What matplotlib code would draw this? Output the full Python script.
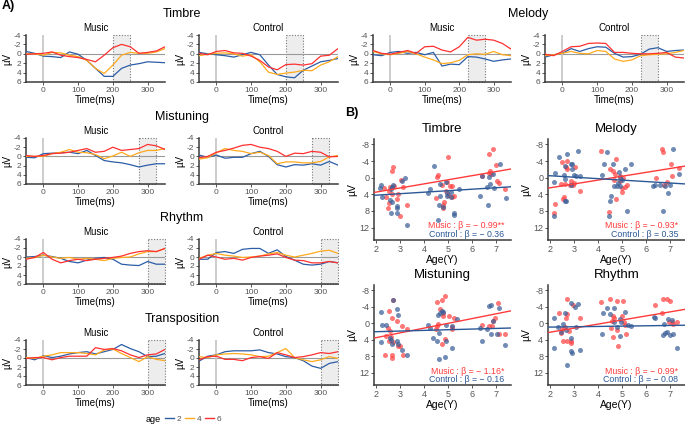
import matplotlib.pyplot as plt
from matplotlib.patches import Rectangle
from matplotlib.lines import Line2D
import numpy as np

plt.rcParams.update({
    "font.family": "Liberation Sans",
    "axes.unicode_minus": False,
})

W, H = 685, 424

# ── A) ERP curves, sampled every 25 ms from -50 to 350 ─────────────────────
times = list(range(-50, 351, 25))
ages = [2, 4, 6]

timbre_music = {
    2: [-0.5, -0.1, 0.5, 0.6, 0.8, -0.4, 0.1, 1.4, 3.1, 4.8, 4.8, 3.1, 2.4, 2.1, 1.7, 1.8, 1.9],
    4: [0.0, 0.0, 0.3, -0.3, -0.2, 0.3, 0.6, 1.4, 3.1, 4.2, 2.4, 0.3, -0.3, -0.1, -0.1, -0.4, -1.1],
    6: [0.1, 0.0, -0.1, -0.4, 0.3, 0.6, 0.8, 1.2, 1.7, 0.3, -1.3, -2.0, -1.5, -0.1, -0.3, -0.6, -1.5],
}
timbre_control = {
    2: [-0.3, 0.0, 0.2, 0.4, 0.7, 0.2, -0.3, 0.2, 2.4, 4.4, 4.9, 5.1, 3.5, 2.6, 1.7, 1.4, 1.0],
    4: [0.4, 0.1, -0.1, -0.2, 0.0, 0.5, 0.2, 1.7, 3.9, 4.4, 4.1, 3.9, 3.5, 3.6, 2.4, 1.7, 0.6],
    6: [-0.1, 0.2, -0.5, -0.7, -0.2, -0.1, 0.5, 1.4, 2.8, 3.4, 2.3, 2.2, 2.4, 2.1, 0.5, 0.3, -1.1],
}
melody_music = {
    2: [0.2, 0.4, -0.3, -0.5, -0.1, -0.3, 0.2, -0.3, 2.6, 2.2, 2.3, 0.6, 0.7, 1.1, 1.6, 1.3, 1.1],
    4: [-0.5, 0.0, 0.2, -0.1, -0.5, 0.0, 0.7, 1.3, 2.1, 1.9, 1.4, 0.2, 0.0, 0.1, -0.5, 0.2, 0.4],
    6: [-0.7, -0.1, 0.1, -0.3, -0.7, -0.1, -1.5, -1.6, -0.8, -0.4, -1.5, -3.5, -2.9, -3.1, -2.9, -2.2, -1.0],
}
melody_control = {
    2: [0.7, 0.2, -0.1, -1.1, -0.5, -1.1, -1.5, -1.4, -0.1, 0.7, 0.6, 0.1, -1.0, -1.3, -0.5, -0.7, -0.8],
    4: [0.4, 0.2, -0.1, -0.5, -0.1, 0.0, -0.7, -0.5, 1.1, 1.6, 1.3, 0.4, 0.2, 0.1, 0.0, -0.3, -0.7],
    6: [0.1, 0.4, -0.5, -1.5, -1.6, -2.2, -2.3, -2.2, -0.3, -0.3, -0.1, 0.0, 0.0, -0.1, -0.3, 0.7, 0.9],
}
mistuning_music = {
    2: [0.2, 0.3, -0.6, -0.7, -0.8, -0.9, -0.6, -1.3, -0.2, 0.9, 1.2, 1.4, 1.8, 2.3, 1.9, 1.6, 1.6],
    4: [0.0, 0.0, 0.0, -0.6, -0.9, -1.5, -0.9, -0.8, -0.4, 0.5, -0.1, -0.9, 0.0, -0.8, -1.3, -1.3, -1.7],
    6: [-0.2, 0.0, -0.2, -0.6, -0.7, -0.9, -1.3, -1.7, -0.9, -1.1, -2.0, -1.3, -1.5, -1.7, -2.6, -2.3, -1.5],
}
mistuning_control = {
    2: [-0.3, 0.2, -0.3, 0.4, 0.2, 0.2, -0.6, -1.1, 0.0, 1.8, 2.3, 1.8, 1.9, 1.6, 1.9, 1.1, 1.9],
    4: [0.6, 0.3, -0.8, -1.7, -1.3, -1.1, -0.6, -0.9, -0.2, 1.6, 1.2, 1.2, 1.4, 1.4, 1.1, 0.1, -0.2],
    6: [0.3, 0.0, -0.9, -1.3, -1.8, -2.4, -2.6, -2.0, -1.7, -1.1, 0.0, -0.7, -0.6, -1.1, -0.9, 0.1, 0.0],
}
rhythm_music = {
    2: [0.0, -0.1, -0.4, -0.1, 0.3, 1.0, 1.3, 0.7, 0.3, 0.1, 0.5, 1.6, 1.8, 1.9, 1.0, 1.6, 1.6],
    4: [0.3, 0.1, -0.4, 0.0, 0.3, 0.1, 0.5, 0.3, 0.5, 0.8, 0.3, 0.1, 0.0, -0.7, -1.2, -1.2, -1.9],
    6: [0.5, 0.1, -1.0, 0.5, 1.3, 0.8, 0.5, 0.8, 0.5, 0.3, 0.1, -0.2, -0.8, -1.2, -1.4, -1.2, -1.9],
}
rhythm_control = {
    2: [0.5, 0.5, -1.0, -1.2, -0.8, -1.7, -1.9, -1.9, -0.8, -1.6, -0.1, 0.7, 1.6, 1.8, 1.6, 1.0, 1.3],
    4: [0.3, -0.4, -0.8, -0.4, -0.2, 0.1, 0.0, -0.2, -0.7, -1.0, -0.4, 0.0, -0.4, -0.8, -1.3, -1.5, -0.8],
    6: [0.5, -0.4, 0.0, 0.5, 0.3, 0.7, 0.1, -0.2, -0.4, -0.7, 0.1, 0.7, 0.8, 1.3, 1.3, 1.0, 1.3],
}
transposition_music = {
    2: [-0.1, 0.4, -0.5, -0.1, -0.4, -0.9, -1.2, -1.4, -0.9, -1.4, -1.9, -3.0, -2.1, -1.4, -0.3, -0.4, -1.0],
    4: [-0.1, 0.1, -0.4, -0.7, -1.2, -1.2, -1.2, -1.0, -0.7, -1.8, -2.0, -1.0, -0.1, 0.8, -0.3, 0.3, 0.6],
    6: [0.1, -0.1, -0.1, 0.4, -0.1, -0.4, -0.4, -0.4, -2.3, -1.9, -2.1, -1.6, -0.7, -0.1, -0.7, -0.9, -1.9],
}
transposition_control = {
    2: [0.7, -0.4, -0.7, -1.4, -1.6, -1.6, -1.6, -1.8, -1.2, -0.9, -0.3, -0.1, 0.6, 1.8, 2.3, 1.2, 0.8],
    4: [-0.3, -0.1, -0.7, -0.9, -1.0, -0.9, -0.7, -0.3, -0.4, -1.2, -2.1, -0.1, 0.4, 0.8, 0.4, -0.3, 0.1],
    6: [0.4, -0.3, -0.4, 0.3, 0.3, 0.6, -0.1, -0.3, 0.1, -1.2, -0.7, -0.1, -0.3, -0.7, -1.2, -1.0, -1.4],
}

# analysis windows (ms)
windows = {
    "Timbre": (200, 250),
    "Melody": (225, 275),
    "Mistuning": (275, 325),
    "Rhythm": (300, 350),
    "Transposition": (300, 350),
}

# ── B) Amplitude vs age scatter ─────────────────────────────────────────────
timbre_music_age = [2.72, 2.68, 2.35, 2.58, 2.54, 2.76, 2.44, 2.65, 2.86, 2.49, 2.54, 3.0, 2.9, 3.14,
                    3.04, 3.29, 4.53, 4.6, 5.01, 4.49, 4.74, 4.96, 5.08, 4.9, 4.81, 4.85, 4.8, 5.18,
                    4.99, 5.18, 5.26, 6.43, 6.89, 6.71, 6.75, 6.71, 6.99, 7.03, 7.1, 7.37, 6.78]
timbre_music_uv = [-2.5, -1.7, 2.4, 2.2, 3.2, 2.0, 4.6, 4.0, 5.2, 7.3, 6.2, 9.2, 4.0, 2.2,
                   0.6, 6.5, -0.2, -0.6, -5.0, 4.9, 1.8, 1.0, 2.0, 3.2, 6.6, 5.8, 7.3, 2.0,
                   4.2, 4.6, 4.5, -0.3, -7.0, -5.8, -1.6, -1.2, -3.0, 0.8, 1.2, 2.8, -0.8]
timbre_control_age = [2.21, 2.19, 2.26, 2.65, 2.72, 2.63, 2.58, 2.68, 2.86, 2.89, 2.89, 2.63, 3.1, 3.21,
                      3.31, 4.25, 4.18, 4.43, 4.67, 4.67, 4.57, 4.64, 4.78, 4.95, 4.95, 4.92, 5.23,
                      5.13, 5.26, 5.47, 6.33, 6.43, 6.61, 6.68, 6.75, 6.89, 6.93, 7.17, 7.42, 6.71, 5.13]
timbre_control_uv = [1.8, 2.6, 4.6, 2.2, 1.8, 2.8, 5.4, 5.8, 6.8, 7.4, 8.4, 8.4, 0.8, 0.2,
                     11.3, 2.8, 3.6, -2.9, 1.6, 4.4, 10.2, 6.5, 7.0, 4.4, 3.8, 1.0, 8.4,
                     4.6, 9.0, 2.8, 4.4, -0.4, 2.2, 6.5, 1.6, -0.8, 2.6, -3.4, 4.9, -0.2, 3.4]

melody_music_age = [2.23, 2.17, 2.51, 2.69, 2.72, 2.65, 2.47, 2.58, 2.55, 2.61, 2.83, 2.88, 3.06, 3.27,
                    3.0, 2.97, 4.13, 4.51, 4.76, 4.62, 4.72, 4.44, 4.76, 4.68, 4.93, 5.0, 5.13, 5.06,
                    5.2, 4.91, 5.0, 6.42, 6.65, 6.69, 6.86, 7.03, 7.07, 7.35, 6.75]
melody_music_uv = [6.35, 8.5, -3.8, -4.1, -2.2, -2.5, 1.5, 4.7, 5.1, 1.5, 1.8, 0.9, -2.5, 3.1,
                   1.3, 1.7, -6.4, -2.0, -4.6, -1.5, -0.9, 8.3, 5.1, 0.5, 0.9, 3.5, 2.3, 0.1,
                   1.7, -0.3, 2.6, 0.1, -7.0, -6.2, 1.1, -3.2, -0.5, -2.4, 1.7]
melody_control_age = [2.19, 2.17, 2.23, 2.37, 2.61, 2.58, 2.61, 2.69, 2.65, 2.61, 2.86, 2.88, 2.93, 3.0,
                      2.93, 3.16, 3.27, 3.1, 4.17, 4.24, 4.38, 4.62, 4.54, 4.51, 4.47, 4.68, 4.82, 4.86,
                      4.93, 5.0, 4.93, 5.13, 5.2, 5.37, 4.79, 6.28, 6.38, 6.59, 6.72, 6.79, 6.93, 7.0,
                      7.11, 7.35]
melody_control_uv = [9.2, 1.1, -1.1, -4.9, -2.8, -0.7, 0.3, -5.6, 5.5, 5.5, 1.7, -3.2, -2.0, -0.6,
                     -3.2, -6.5, -0.5, -0.3, -0.7, -3.3, -6.2, -3.3, 4.3, 5.7, 9.3, 2.1, 1.3, -1.4,
                     -0.1, 0.5, 2.1, -2.2, 8.0, -3.3, 2.1, 2.1, 1.7, 1.7, 8.0, 2.1, 3.7, 1.7,
                     -7.0, -0.9]

mistuning_music_age = [2.54, 2.72, 2.68, 2.86, 2.51, 2.58, 2.44, 2.63, 2.54, 2.38, 2.65, 2.68, 3.0, 3.14,
                       3.1, 3.28, 2.9, 2.72, 4.53, 4.76, 4.88, 4.67, 4.81, 4.81, 4.49, 4.53, 4.58, 4.76,
                       5.04, 5.26, 5.18, 4.88, 5.18, 6.4, 6.71, 6.89, 6.96, 7.07, 7.1, 7.38, 6.82]
mistuning_music_uv = [-2.9, -5.6, -1.3, -0.5, 1.1, 1.9, 3.0, 3.3, 4.3, 7.6, 7.6, 8.4, 5.5, 7.8,
                      0.7, 1.5, 5.5, 4.6, -5.1, -5.6, -6.7, -3.5, -2.5, -1.7, 1.4, 0.7, 0.1, 5.1,
                      -1.7, -1.3, 1.4, 3.8, 0.9, 0.3, 0.7, -0.5, -1.3, -4.9, 2.7, 2.7, 0.7]
mistuning_control_age = [2.21, 2.24, 2.21, 2.4, 2.72, 2.58, 2.63, 2.65, 2.86, 2.9, 2.86, 2.93, 3.1, 3.28,
                         4.18, 4.25, 4.39, 4.53, 4.63, 4.57, 4.67, 4.74, 4.63, 4.9, 4.88, 5.15, 4.9,
                         5.18, 5.36, 4.81, 6.33, 6.4, 6.71, 6.79, 6.61, 6.89, 7.03, 7.13, 7.38, 6.79]
mistuning_control_uv = [-2.7, 0.5, 4.6, 0.5, -5.7, 3.5, 4.1, 5.1, -3.5, -1.9, 4.2, 5.1, 6.4, 7.6,
                        0.3, 1.1, 3.5, 4.3, 8.6, -2.1, -2.5, -2.9, 2.3, 4.3, 8.1, 6.0, 0.5,
                        0.7, -1.1, -2.7, 1.1, 4.3, -4.1, -4.5, 1.5, -0.5, 2.7, -3.7, 5.4, 2.7]

rhythm_music_age = [2.37, 2.51, 2.47, 2.69, 2.65, 2.72, 2.55, 2.69, 2.86, 2.88, 2.97, 3.27, 2.79, 2.61,
                    4.13, 4.51, 4.79, 5.04, 4.62, 4.68, 4.54, 4.62, 4.79, 4.82, 5.0, 5.07, 5.14, 5.18,
                    4.58, 6.38, 6.65, 6.7, 6.86, 7.0, 7.07, 7.14, 7.3, 6.97]
rhythm_music_uv = [-2.6, 1.4, 2.4, -5.8, -1.4, -2.2, 4.4, 4.4, 4.2, 4.8, -4.4, -1.4, 1.8, 0.8,
                   -5.2, -6.0, -5.4, -5.4, -1.8, -1.4, 1.2, 3.4, 1.6, 5.6, -1.8, -0.4, 0.4, 2.6,
                   -0.6, -4.4, -2.4, -6.0, -5.8, -5.4, -0.4, 0.2, -0.4, -0.2]
rhythm_control_age = [2.17, 2.19, 2.33, 2.47, 2.61, 2.65, 2.55, 2.86, 2.88, 2.86, 2.93, 2.69, 3.06, 3.16,
                      3.27, 3.1, 4.17, 4.21, 4.38, 4.49, 4.68, 4.65, 4.9, 4.96, 4.93, 5.14, 5.23, 5.37,
                      4.79, 6.31, 6.38, 6.7, 6.79, 6.86, 6.93, 7.07, 7.0, 7.14, 7.3, 6.75]
rhythm_control_uv = [-1.2, 6.0, 0.8, 2.0, -2.4, 1.6, 0.2, -5.0, 3.6, 6.8, 7.2, 10.2, -4.0, -4.8,
                     6.4, 0.8, 2.6, -2.6, -3.8, -2.2, -3.6, -0.4, -1.0, -0.2, 3.0, -2.8, 0.4, 0.6,
                     1.0, -1.6, -1.4, 2.8, 2.4, 2.0, -1.0, -0.8, 2.8, 2.6, 6.0, 0.2]

# linear fits: value = intercept + beta * age
fit_beta_music = [-0.99, -0.93, -1.16, -0.99]
fit_icpt_music = [5.46, 4.31, 5.82, 4.16]
fit_beta_control = [-0.36, 0.35, -0.16, -0.08]
fit_icpt_control = [4.94, -1.16, 2.37, 1.09]
stars_music = ["**", "*", "*", "*"]
stars_control = ["", "", "", ""]

AGE_COLORS = {2: "#2C5DA6", 4: "#FFAA1D", 6: "#FF3030"}
RED_PT, BLUE_PT = "#FF4444", "#3B5F98"
RED_LN, BLUE_LN = "#FF3B3B", "#2B5896"
AXIS_C, TICK_C = "#3A3A3A", "#555555"


def px_box(l, t, r, b):
    return [l / W, 1 - b / H, (r - l) / W, (b - t) / H]


def _classic(ax, labelsize=6):
    for s in ("top", "right"):
        ax.spines[s].set_visible(False)
    for s in ("left", "bottom"):
        ax.spines[s].set_color(AXIS_C)
        ax.spines[s].set_linewidth(1.1)
    ax.tick_params(length=2, width=0.6, color=AXIS_C, labelsize=labelsize,
                   labelcolor=TICK_C, pad=1.5)


def erp_panel(ax, curves, win, subtitle):
    _classic(ax)
    ax.add_patch(Rectangle((win[0], -4), win[1] - win[0], 10, facecolor="#EDEDED",
                           edgecolor="#777777", ls=(0, (1, 1.5)), lw=0.8, zorder=0,
                           clip_on=False))
    ax.axhline(0, color="#9A9A9A", lw=0.8, zorder=1)
    ax.axvline(0, color="#C8C8C8", lw=1.3, zorder=1)
    for a in ages:
        ax.plot(times, curves[a], color=AGE_COLORS[a], lw=0.9, zorder=3)
    ax.set_xlim(-50, 350)
    ax.set_ylim(6, -4)
    ax.set_xticks([0, 100, 200, 300])
    ax.set_yticks([-4, -2, 0, 2, 4, 6])
    ax.set_xlabel("Time(ms)", fontsize=7, labelpad=1)
    ax.set_ylabel("µV", fontsize=7, labelpad=1)
    ax.set_title(subtitle, fontsize=7, pad=3)


def scatter_panel(ax, title, i, m_age, m_uv, c_age, c_uv):
    _classic(ax, labelsize=6.5)
    ax.scatter(m_age, m_uv, s=13, color=RED_PT, alpha=0.72, lw=0, zorder=2)
    ax.scatter(c_age, c_uv, s=13, color=BLUE_PT, alpha=0.72, lw=0, zorder=2)
    xs = np.array([1.92, 7.62])
    ax.plot(xs, fit_icpt_music[i] + fit_beta_music[i] * xs, color=RED_LN, lw=1.0, zorder=3)
    ax.plot(xs, fit_icpt_control[i] + fit_beta_control[i] * xs, color=BLUE_LN, lw=1.0, zorder=3)
    ax.set_xlim(xs[0], xs[1])
    ax.set_ylim(15, -9.3)
    ax.set_xticks([2, 3, 4, 5, 6, 7])
    ax.set_yticks([-8, -4, 0, 4, 8, 12])
    ax.set_xlabel("Age(Y)", fontsize=7.5, labelpad=1)
    ax.set_ylabel("µV", fontsize=7.5, labelpad=1)
    ax.set_title(title, fontsize=9.5, pad=5)

    def fmt(b, stars):
        return (f"− {abs(b):.2f}" if b < 0 else f"{b:.2f}") + stars

    ax.text(0.95, 0.14, "Music : β = " + fmt(fit_beta_music[i], stars_music[i]),
            transform=ax.transAxes, ha="right", va="center", fontsize=6.3, color=RED_LN)
    ax.text(0.95, 0.055, "Control : β = " + fmt(fit_beta_control[i], stars_control[i]),
            transform=ax.transAxes, ha="right", va="center", fontsize=6.3, color=BLUE_LN)


fig = plt.figure(figsize=(W / 100, H / 100), dpi=100)

cols = [(26, 165), (199, 338), (373, 511), (545, 684)]
rows = [(35, 82), (138, 184), (239, 284), (340, 385)]

erp_layout = [
    ("Timbre", 0, 0, timbre_music, timbre_control),
    ("Melody", 0, 2, melody_music, melody_control),
    ("Mistuning", 1, 0, mistuning_music, mistuning_control),
    ("Rhythm", 2, 0, rhythm_music, rhythm_control),
    ("Transposition", 3, 0, transposition_music, transposition_control),
]
for name, r, c, music, control in erp_layout:
    t, b = rows[r]
    for k, (curves, sub) in enumerate([(music, "Music"), (control, "Control")]):
        l, rr = cols[c + k]
        ax = fig.add_axes(px_box(l, t, rr, b))
        erp_panel(ax, curves, windows[name], sub)
    cx = (cols[c][0] + cols[c + 1][1]) / 2
    fig.text(cx / W, 1 - (t - 21) / H, name, ha="center", va="center", fontsize=9)

fig.text(2 / W, 1 - 6 / H, "A)", fontsize=9, fontweight="bold", va="center")
fig.text(345 / W, 1 - 113 / H, "B)", fontsize=9, fontweight="bold", va="center")

# legend for age
fig.text(146 / W, 1 - 419 / H, "age", fontsize=6.5, va="center")
handles = [Line2D([], [], color=AGE_COLORS[a], lw=1.0) for a in ages]
fig.legend(handles, [str(a) for a in ages], loc="center", ncol=3, frameon=False,
           bbox_to_anchor=(193 / W, 1 - 419 / H), fontsize=6, handlelength=1.1,
           handletextpad=0.3, columnspacing=0.45, borderpad=0, labelcolor=TICK_C)

# B panels
scatter_layout = [
    ("Timbre", (374, 139, 511, 240), timbre_music_age, timbre_music_uv,
     timbre_control_age, timbre_control_uv),
    ("Melody", (548, 139, 685, 240), melody_music_age, melody_music_uv,
     melody_control_age, melody_control_uv),
    ("Mistuning", (374, 285, 511, 385), mistuning_music_age, mistuning_music_uv,
     mistuning_control_age, mistuning_control_uv),
    ("Rhythm", (548, 285, 685, 385), rhythm_music_age, rhythm_music_uv,
     rhythm_control_age, rhythm_control_uv),
]
for i, (name, bx, ma, mu, ca, cu) in enumerate(scatter_layout):
    ax = fig.add_axes(px_box(*bx))
    scatter_panel(ax, name, i, ma, mu, ca, cu)

fig.savefig("out.png", dpi=100)
